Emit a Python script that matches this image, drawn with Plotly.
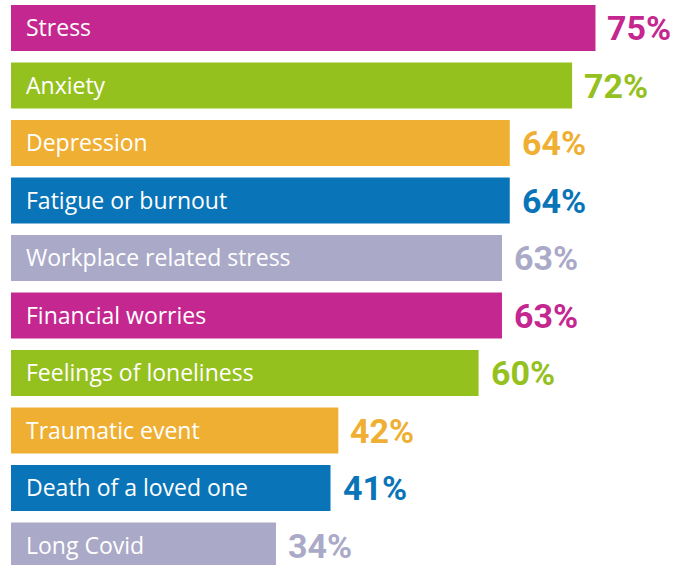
import plotly.graph_objects as go

categories = ["Stress", "Anxiety", "Depression", "Fatigue or burnout",
              "Workplace related stress", "Financial worries",
              "Feelings of loneliness", "Traumatic event",
              "Death of a loved one", "Long Covid"]
values = [75, 72, 64, 64, 63, 63, 60, 42, 41, 34]
colors = ["#C4278F", "#95C11F", "#EFAF33", "#0A74B8", "#AAAAC8",
          "#C4278F", "#95C11F", "#EFAF33", "#0A74B8", "#AAAAC8"]
value_labels = [f"{v}%" for v in values]

fig = go.Figure(go.Bar(
    x=values, y=categories, orientation="h",
    marker=dict(color=colors, line=dict(width=0)),
    width=0.80, hoverinfo="skip",
))

for cat, v, c, lab in zip(categories, values, colors, value_labels):
    fig.add_annotation(x=0, y=cat, text=cat, xanchor="left", yanchor="middle",
                       xshift=13, yshift=1, showarrow=False,
                       font=dict(family="Open Sans", size=23, color="white"))
    fig.add_annotation(x=v, y=cat, text=f"<b>{lab}</b>", xanchor="left", yanchor="middle",
                       xshift=11, yshift=0, showarrow=False, borderpad=0,
                       font=dict(family="Roboto", size=34, color=c))

fig.update_layout(
    width=689, height=565,
    margin=dict(l=11, r=0, t=0, b=0),
    paper_bgcolor="white", plot_bgcolor="white",
    showlegend=False,
    xaxis=dict(range=[0, 87], visible=False),
    yaxis=dict(range=[9.339, -0.487], visible=False, categoryorder="array",
               categoryarray=categories),
)
fig.write_html("out.html")
